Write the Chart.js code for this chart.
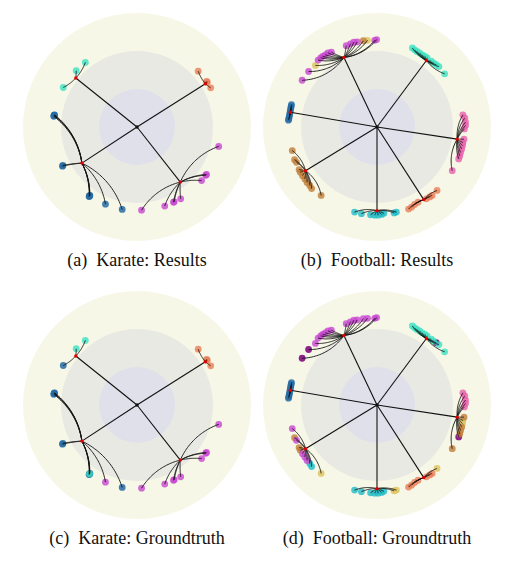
<!DOCTYPE html>
<html>
<head>
<meta charset="utf-8">
<script src="https://cdn.jsdelivr.net/npm/chart.js@4.4.1/dist/chart.umd.min.js"></script>
<style>
  body { margin: 0; background: #fff; width: 515px; height: 570px; position: relative; overflow: hidden; }
  .panel { position: absolute; width: 228px; height: 228px; }
  .cap { position: absolute; width: 260px; text-align: center; font-family: "Liberation Serif", "DejaVu Serif", serif; font-size: 18px; color: #111; white-space: pre; }
</style>
</head>
<body>
<div class="panel" style="left:23px;top:13px"><canvas id="a" width="228" height="228"></canvas></div>
<div class="panel" style="left:263px;top:13px"><canvas id="b" width="228" height="228"></canvas></div>
<div class="panel" style="left:23px;top:291px"><canvas id="c" width="228" height="228"></canvas></div>
<div class="panel" style="left:263px;top:291px"><canvas id="d" width="228" height="228"></canvas></div>
<div class="cap" style="left:7px;top:250px">(a)  Karate: Results</div>
<div class="cap" style="left:247px;top:250px">(b)  Football: Results</div>
<div class="cap" style="left:7px;top:528px">(c)  Karate: Groundtruth</div>
<div class="cap" style="left:247px;top:528px">(d)  Football: Groundtruth</div>
<script>
// disk and rings (data units, outer ring = boundary of the Poincare disk)
const diskRadius = 3;
const ringRadii = [3, 2, 1];
const ringColors = ["#f7f7e7", "#e9e9e4", "#e0e0eb"];

// colours of the communities
const palette = {
  C: "rgba(60, 225, 195, 0.8)",   // turquoise
  O: "rgba(232, 125, 88, 0.8)",   // salmon
  B: "rgba(38, 108, 165, 0.85)",  // steel blue
  M: "rgba(200, 70, 210, 0.8)",   // orchid
  P: "rgba(232, 95, 172, 0.8)",   // pink
  N: "rgba(192, 125, 55, 0.8)",   // brown
  T: "rgba(222, 198, 100, 0.85)", // tan
  Q: "rgba(30, 188, 200, 0.8)",   // teal
  D: "rgba(128, 10, 128, 0.9)"    // dark purple
};

// ---- Karate ----
const karateHubs = [[-1.61, 1.29], [1.80, 1.14], [-1.45, -0.95], [1.14, -1.45]];
// [x, y, hub]
const karateLeaves = [
  [-1.36, 1.70, 0], [-1.60, 1.48, 0], [-1.94, 1.04, 0],
  [1.61, 1.47, 1], [1.83, 1.20, 1], [1.85, 1.18, 1], [1.94, 1.03, 1],
  [-2.18, 0.30, 2], [-2.17, 0.32, 2], [-2.19, 0.28, 2], [-2.18, 0.31, 2],
  [-1.96, -1.03, 2], [-1.95, -1.01, 2],
  [-1.25, -1.82, 2], [-1.24, -1.80, 2], [-1.26, -1.83, 2], [-1.25, -1.81, 2],
  [-0.83, -2.03, 2], [-0.39, -2.17, 2],
  [2.15, -0.51, 3], [1.81, -1.27, 3], [1.83, -1.25, 3], [1.70, -1.41, 3],
  [1.15, -1.89, 3], [0.96, -1.98, 3], [0.98, -1.97, 3], [0.73, -2.08, 3], [0.12, -2.19, 3]
];
const karateResult = "CCCOOOOBBBBBBBBBBBBMMMMMMMMM";
const karateTruth  = "CCBOOOOBBBBBBBBBCMBMMMMMMMMM";

// ---- Football ----
const footballHubs = [[-0.87, 1.83], [1.30, 1.75], [-2.28, 0.39], [2.11, -0.32], [-1.88, -1.15], [0.00, -2.20], [1.23, -1.91]];
const footballLeaves = [
  // hub 0
  [-0.81, 2.14, 0], [-0.70, 2.19, 0], [-0.61, 2.23, 0], [-0.52, 2.24, 0], [-0.36, 2.27, 0], [-0.25, 2.28, 0],
  [-0.06, 2.28, 0], [-0.01, 2.30, 0],
  [-1.20, 1.97, 0], [-1.29, 1.95, 0], [-1.36, 1.90, 0], [-1.43, 1.86, 0], [-1.48, 1.82, 0], [-1.55, 1.76, 0],
  [-1.62, 1.62, 0], [-1.80, 1.46, 0], [-1.97, 1.23, 0],
  // hub 1
  [0.93, 2.08, 1], [0.99, 2.03, 1], [1.05, 1.99, 1], [1.12, 1.95, 1], [1.19, 1.90, 1], [1.26, 1.86, 1],
  [1.32, 1.82, 1], [1.43, 1.73, 1], [1.49, 1.68, 1], [1.56, 1.64, 1], [1.63, 1.59, 1], [1.78, 1.40, 1],
  // hub 2
  [-2.25, 0.59, 2], [-2.26, 0.54, 2], [-2.27, 0.49, 2], [-2.28, 0.43, 2], [-2.29, 0.38, 2], [-2.30, 0.32, 2],
  [-2.31, 0.27, 2], [-2.32, 0.22, 2], [-2.33, 0.18, 2],
  // hub 3
  [2.26, 0.32, 3], [2.31, 0.24, 3], [2.33, 0.13, 3], [2.33, 0.04, 3], [2.30, -0.05, 3],
  [2.29, -0.32, 3], [2.26, -0.41, 3], [2.25, -0.49, 3], [2.23, -0.58, 3], [2.20, -0.67, 3],
  [2.18, -0.76, 3], [2.15, -0.84, 3], [1.98, -1.15, 3],
  // hub 4
  [-2.23, -0.62, 4], [-2.17, -0.86, 4], [-2.12, -0.93, 4], [-2.05, -1.12, 4], [-2.02, -1.19, 4], [-1.96, -1.28, 4],
  [-1.90, -1.37, 4], [-1.84, -1.46, 4], [-1.77, -1.54, 4], [-1.72, -1.62, 4], [-1.47, -1.80, 4],
  // hub 5
  [-0.59, -2.24, 5], [-0.41, -2.28, 5], [-0.17, -2.31, 5], [-0.06, -2.32, 5], [0.03, -2.32, 5], [0.12, -2.30, 5],
  [0.18, -2.27, 5], [0.45, -2.26, 5], [0.51, -2.24, 5],
  // hub 6
  [0.83, -2.16, 6], [0.91, -2.11, 6], [0.99, -2.04, 6], [1.08, -1.98, 6], [1.30, -1.89, 6], [1.39, -1.84, 6],
  [1.45, -1.80, 6], [1.58, -1.67, 6]
];
const footballResult =
  "MMMMNTMMMMMMMMTMM" + "CCCCCCCCCCCC" + "BBBBBBBBB" + "PPPPPPPPPPPPP" +
  "NNNNNNNNNNN" + "QQQQQQQQQ" + "OOOOOOOO";
const footballTruth =
  "MMMMMMMMMMMMMMMDD" + "CCCCCCCCCDCC" + "BBBBBBBBB" + "PPPPPNTTNNNDN" +
  "MNMNNMMMQQT" + "QQQQQQQTT" + "OOOOOOOT";

function geodesic(a, b, n) {
  const cross = a[0] * b[1] - a[1] * b[0];
  if (Math.abs(cross) < 1e-6) return [a, b];
  const ka = (a[0] * a[0] + a[1] * a[1] + diskRadius * diskRadius) / 2;
  const kb = (b[0] * b[0] + b[1] * b[1] + diskRadius * diskRadius) / 2;
  const cx = (ka * b[1] - a[1] * kb) / cross;
  const cy = (a[0] * kb - b[0] * ka) / cross;
  const r = Math.hypot(a[0] - cx, a[1] - cy);
  const t1 = Math.atan2(a[1] - cy, a[0] - cx);
  let d = Math.atan2(b[1] - cy, b[0] - cx) - t1;
  while (d > Math.PI) d -= 2 * Math.PI;
  while (d < -Math.PI) d += 2 * Math.PI;
  const pts = [];
  for (let i = 0; i <= n; i++) {
    const t = t1 + d * i / n;
    pts.push([cx + r * Math.cos(t), cy + r * Math.sin(t)]);
  }
  return pts;
}

function makeTreePlugin(hubs, leaves) {
  return {
    id: "tree",
    beforeDatasetsDraw(chart) {
      const ctx = chart.ctx, xs = chart.scales.x, ys = chart.scales.y;
      const cx = xs.getPixelForValue(0), cy = ys.getPixelForValue(0);
      ctx.save();
      ringRadii.forEach((r, i) => {
        ctx.beginPath();
        ctx.arc(cx, cy, xs.getPixelForValue(r) - cx, 0, 2 * Math.PI);
        ctx.fillStyle = ringColors[i];
        ctx.fill();
      });
      ctx.restore();
    },
    beforeDatasetDraw(chart, args) {
      if (args.index !== 0) return;
      const ctx = chart.ctx, xs = chart.scales.x, ys = chart.scales.y;
      const stroke = (pts, w) => {
        ctx.beginPath();
        pts.forEach((p, i) => {
          const px = xs.getPixelForValue(p[0]), py = ys.getPixelForValue(p[1]);
          if (i === 0) ctx.moveTo(px, py); else ctx.lineTo(px, py);
        });
        ctx.lineWidth = w;
        ctx.stroke();
      };
      ctx.save();
      ctx.strokeStyle = "#111";
      hubs.forEach(h => stroke([[0, 0], h], 1.1));
      leaves.forEach(l => stroke(geodesic(hubs[l[2]], [l[0], l[1]], 30), 0.9));
      ctx.restore();
    }
  };
}

function drawPanel(id, hubs, leaves, groups) {
  const nodes = [{ x: 0, y: 0 }].concat(hubs.map(h => ({ x: h[0], y: h[1] })));
  const datasets = [{
    data: nodes,
    pointRadius: 1.7,
    pointBackgroundColor: nodes.map((n, i) => i === 0 ? "#111" : "#e00000"),
    pointBorderWidth: 0
  }];
  Object.keys(palette).forEach(g => {
    const pts = leaves.filter((l, i) => groups[i] === g).map(l => ({ x: l[0], y: l[1] }));
    if (!pts.length) return;
    datasets.push({
      data: pts,
      pointRadius: 3.4,
      pointBackgroundColor: palette[g],
      pointBorderWidth: 0
    });
  });
  new Chart(document.getElementById(id), {
    type: "scatter",
    data: { datasets },
    options: {
      responsive: false,
      animation: false,
      events: [],
      layout: { padding: 0, autoPadding: false },
      plugins: { legend: { display: false }, tooltip: { enabled: false } },
      scales: {
        x: { type: "linear", min: -diskRadius, max: diskRadius, display: false },
        y: { type: "linear", min: -diskRadius, max: diskRadius, display: false }
      }
    },
    plugins: [makeTreePlugin(hubs, leaves)]
  });
}

drawPanel("a", karateHubs, karateLeaves, karateResult);
drawPanel("b", footballHubs, footballLeaves, footballResult);
drawPanel("c", karateHubs, karateLeaves, karateTruth);
drawPanel("d", footballHubs, footballLeaves, footballTruth);
</script>
</body>
</html>
